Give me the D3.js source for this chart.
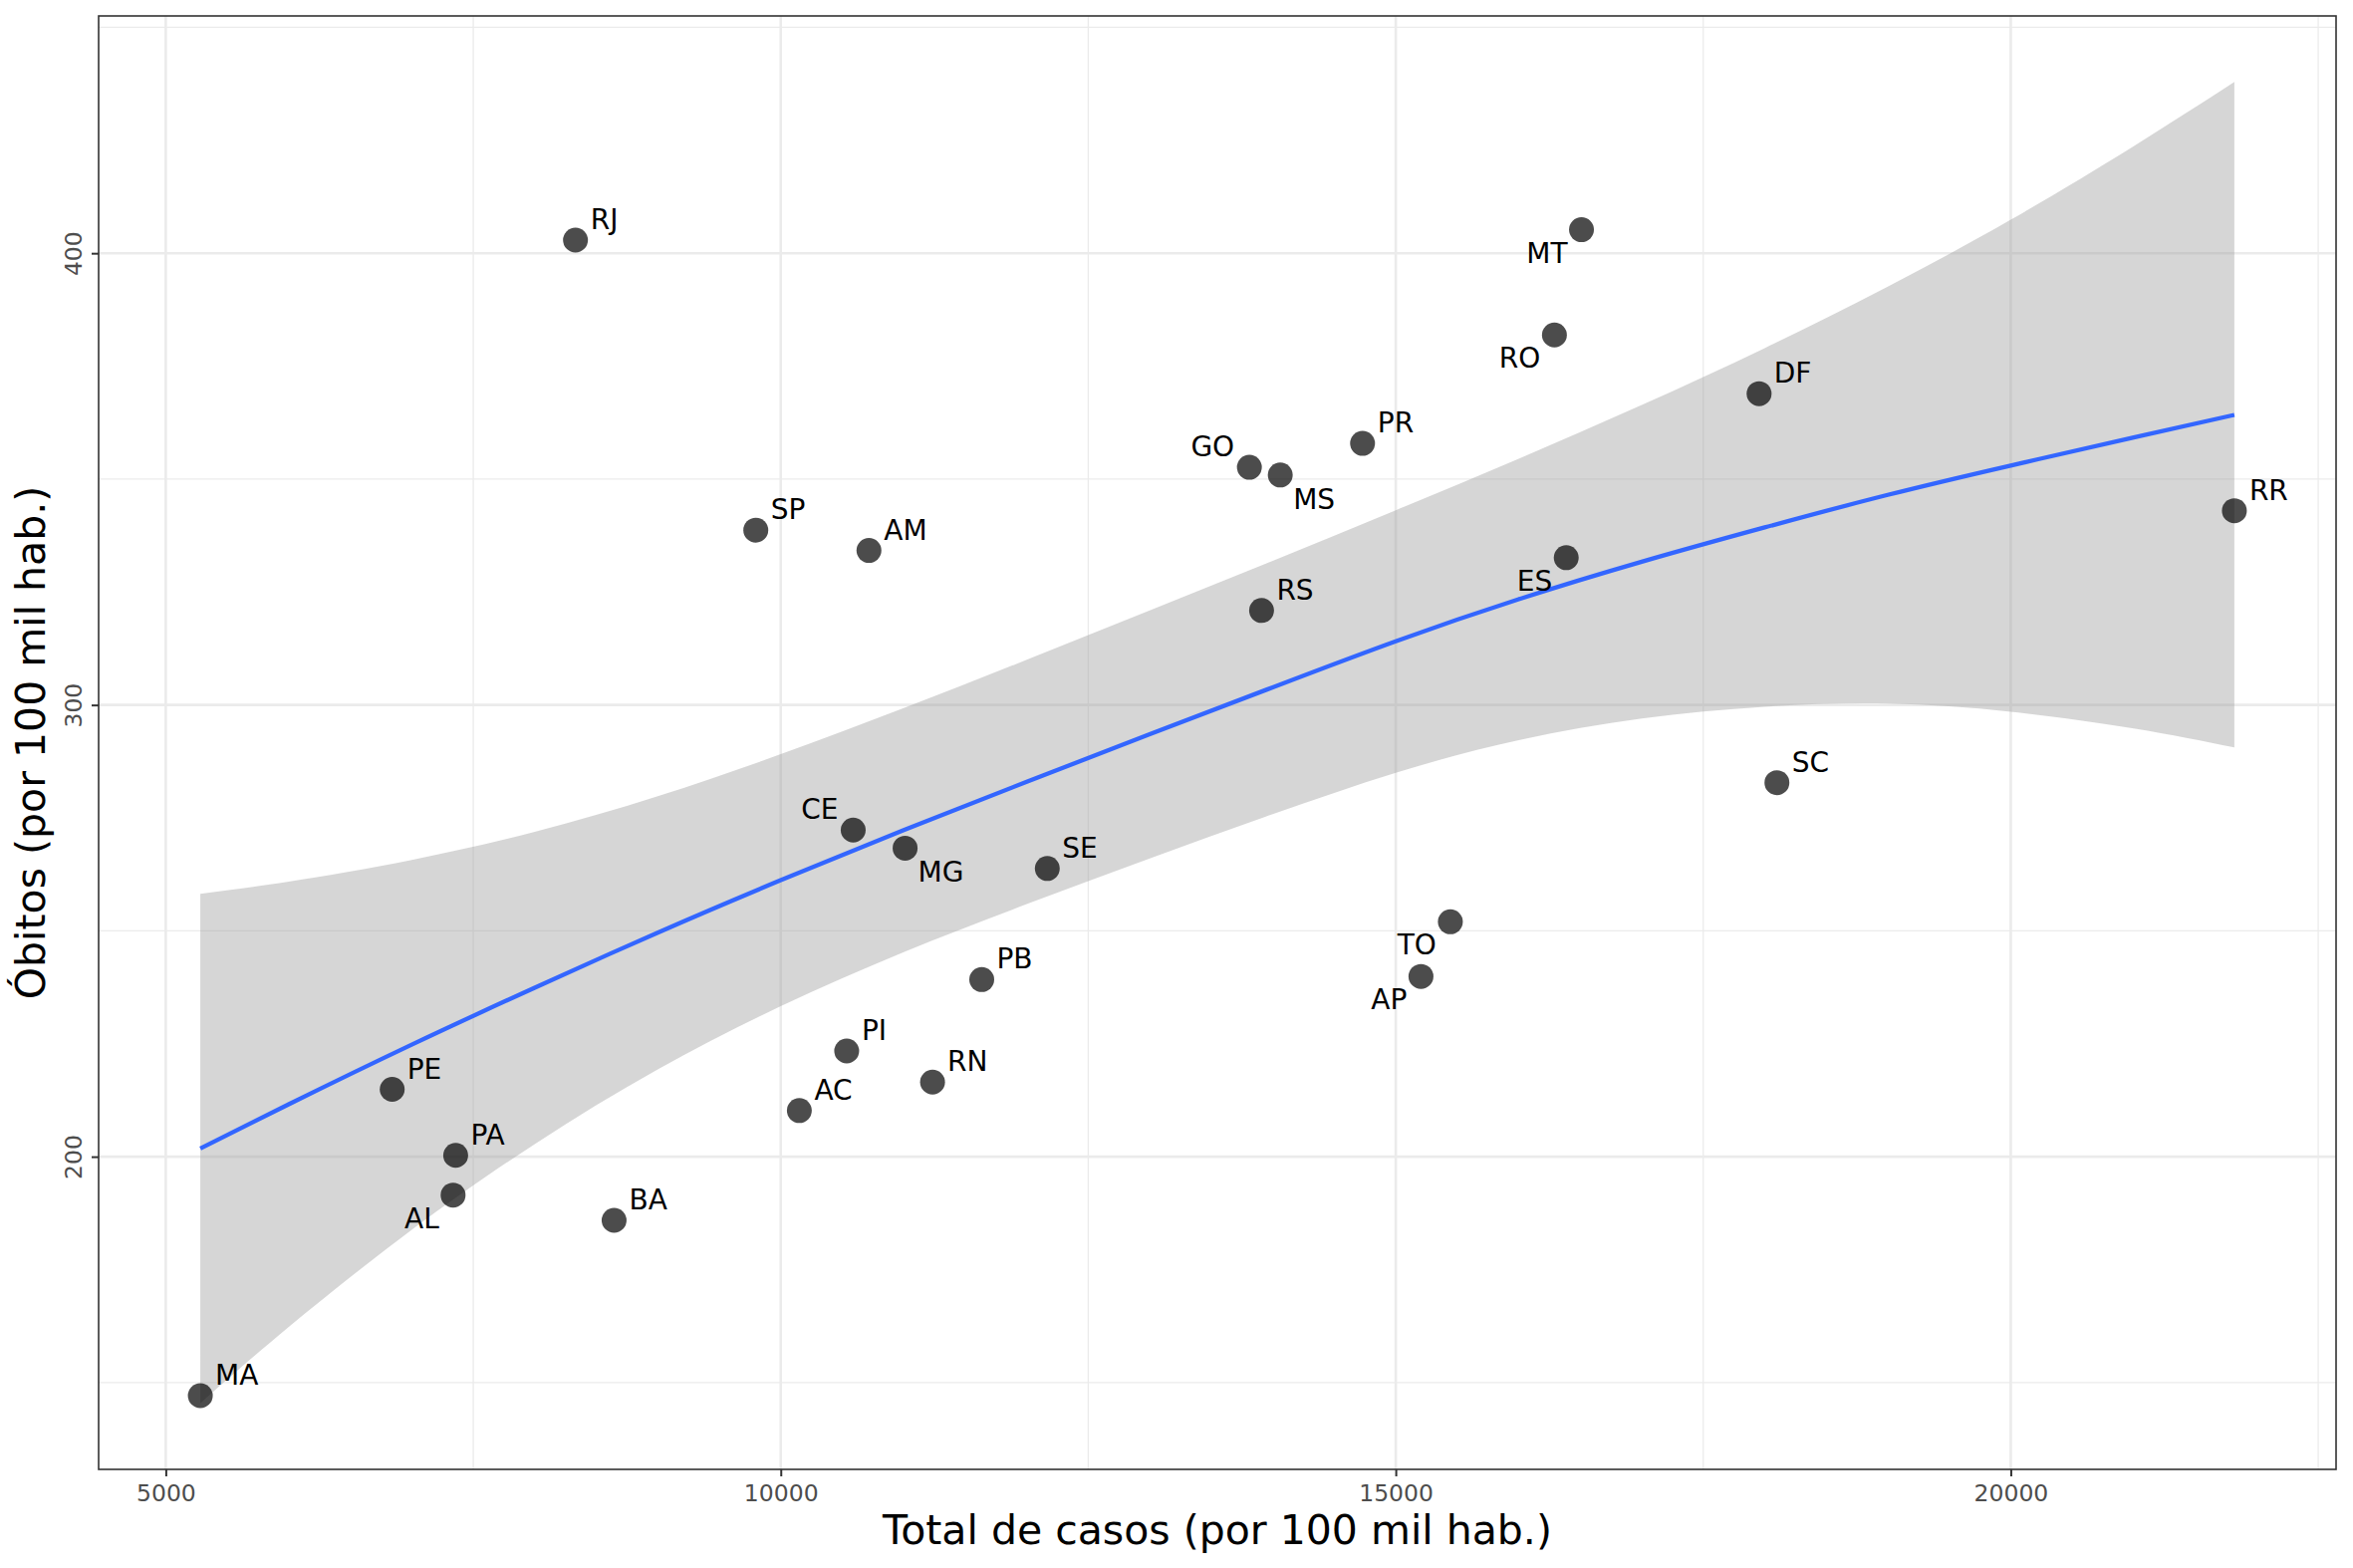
<!DOCTYPE html>
<html>
<head>
<meta charset="utf-8">
<script src="https://cdn.jsdelivr.net/npm/d3@7/dist/d3.min.js"></script>
<style>
  html, body { margin: 0; padding: 0; background: #ffffff; }
  svg { display: block; }
  text { font-family: "DejaVu Sans", sans-serif; }
</style>
</head>
<body>
<script>
// ---------- data ----------
const states = ['RJ','SP','AM','MT','RO','PR','GO','MS','RS','ES','DF','RR','SC','MA','PE','PA','AL','BA','CE','PI','AC','MG','SE','PB','RN','TO','AP'];
const casos  = [8331, 9797, 10717, 16510, 16290, 14730, 13810, 14061, 13909, 16386, 17954, 21818, 18099, 5281, 6841, 7357, 7336, 8645, 10589, 10536, 10151, 11011, 12167, 11634, 11234, 15444, 15205];
const obitos = [402.9, 338.7, 334.2, 405.2, 381.9, 357.9, 352.6, 350.9, 320.9, 332.6, 368.9, 343.0, 282.8, 147.1, 214.9, 200.3, 191.5, 185.9, 272.3, 223.4, 210.2, 268.3, 263.8, 239.2, 216.5, 252.0, 239.9];

// loess smooth
const smoothX     = [5281, 6000, 7000, 8000, 9000, 10000, 11000, 12000, 13000, 14000, 15000, 16000, 17000, 18000, 19000, 20000, 21000, 21818];
const smoothFit   = [201.8, 211.6, 224.8, 237.4, 249.6, 261.2, 272.3, 283.0, 293.5, 303.9, 314.1, 323.4, 331.7, 339.3, 346.5, 353.0, 359.2, 364.2];
const smoothUpper = [258.2, 260.9, 265.7, 271.9, 279.8, 289.1, 299.3, 310.0, 320.9, 331.9, 343.1, 354.5, 366.4, 379.0, 392.6, 407.4, 423.7, 437.9];
const smoothLower = [145.4, 162.3, 183.8, 202.8, 219.3, 233.3, 245.3, 255.9, 266.0, 275.8, 285.0, 292.2, 297.0, 299.6, 300.3, 298.5, 294.8, 290.6];

const xTicks = [5000, 10000, 15000, 20000];
const yTicks = [200, 300, 400];
const xMinor = [7500, 12500, 17500, 22500];
const yMinor = [150, 250, 350, 450];

const xTitle = 'Total de casos (por 100 mil hab.)';
const yTitle = 'Óbitos (por 100 mil hab.)';

// label placement: ur = upper-right, ll = lower-left, ul = upper-left, lr = lower-right
const labelPlace = {RJ:'ur',SP:'ur',AM:'ur',MT:'ll',RO:'ll',PR:'ur',GO:'ul',MS:'lr',RS:'ur',ES:'ll',DF:'ur',RR:'ur',SC:'ur',MA:'ur',PE:'ur',PA:'ur',AL:'ll',BA:'ur',CE:'ul',PI:'ur',AC:'ur',MG:'lr',SE:'ur',PB:'ur',RN:'ur',TO:'ll',AP:'ll'};

// ---------- layout ----------
const W = 2362, H = 1574;
const panel = {left: 99, right: 2345, top: 16, bottom: 1475};

const svg = d3.select('body').append('svg').attr('width', W).attr('height', H);
svg.append('rect').attr('width', W).attr('height', H).attr('fill', '#ffffff');

function expand(ext, f) { const r = ext[1] - ext[0]; return [ext[0] - r * f, ext[1] + r * f]; }
const xExt = d3.extent(casos.concat(smoothX));
const yExt = d3.extent(obitos.concat(smoothUpper, smoothLower));
const x = d3.scaleLinear().domain(expand(xExt, 0.05)).range([panel.left, panel.right]);
const y = d3.scaleLinear().domain(expand(yExt, 0.05)).range([panel.bottom, panel.top]);

const g = svg.append('g');

// grid
const grid = g.append('g');
grid.selectAll('line.xminor').data(xMinor.filter(v => x(v) > panel.left && x(v) < panel.right)).enter().append('line')
  .attr('x1', d => x(d)).attr('x2', d => x(d)).attr('y1', panel.top).attr('y2', panel.bottom)
  .attr('stroke', '#ebebeb').attr('stroke-width', 1.3);
grid.selectAll('line.yminor').data(yMinor.filter(v => y(v) > panel.top && y(v) < panel.bottom)).enter().append('line')
  .attr('y1', d => y(d)).attr('y2', d => y(d)).attr('x1', panel.left).attr('x2', panel.right)
  .attr('stroke', '#ebebeb').attr('stroke-width', 1.3);
grid.selectAll('line.xmajor').data(xTicks).enter().append('line')
  .attr('x1', d => x(d)).attr('x2', d => x(d)).attr('y1', panel.top).attr('y2', panel.bottom)
  .attr('stroke', '#ebebeb').attr('stroke-width', 2.6);
grid.selectAll('line.ymajor').data(yTicks).enter().append('line')
  .attr('y1', d => y(d)).attr('y2', d => y(d)).attr('x1', panel.left).attr('x2', panel.right)
  .attr('stroke', '#ebebeb').attr('stroke-width', 2.6);

// ribbon + line
const sm = smoothX.map((v, i) => ({x: v, fit: smoothFit[i], lo: smoothLower[i], hi: smoothUpper[i]}));
const area = d3.area().x(d => x(d.x)).y0(d => y(d.lo)).y1(d => y(d.hi)).curve(d3.curveNatural);
g.append('path').attr('d', area(sm)).attr('fill', '#999999').attr('fill-opacity', 0.4);

const line = d3.line().x(d => x(d.x)).y(d => y(d.fit)).curve(d3.curveNatural);

// points
const pts = states.map((s, i) => ({s, x: casos[i], y: obitos[i]}));
g.selectAll('circle.pt').data(pts).enter().append('circle')
  .attr('cx', d => x(d.x)).attr('cy', d => y(d.y)).attr('r', 12.5)
  .attr('fill', '#000000').attr('fill-opacity', 0.7);

g.append('path').attr('d', line(sm)).attr('fill', 'none').attr('stroke', '#3366FF').attr('stroke-width', 4.3);

// labels
const off = {
  ur: {dx: 15, dy: -11, anchor: 'start'},
  ll: {dx: -14, dy: 33, anchor: 'end'},
  ul: {dx: -15, dy: -11, anchor: 'end'},
  lr: {dx: 13, dy: 34, anchor: 'start'}
};
g.selectAll('text.lab').data(pts).enter().append('text')
  .attr('x', d => x(d.x) + off[labelPlace[d.s]].dx)
  .attr('y', d => y(d.y) + off[labelPlace[d.s]].dy)
  .attr('text-anchor', d => off[labelPlace[d.s]].anchor)
  .attr('font-size', 28).attr('fill', '#000000')
  .text(d => d.s);

// panel border
svg.append('rect').attr('x', panel.left).attr('y', panel.top)
  .attr('width', panel.right - panel.left).attr('height', panel.bottom - panel.top)
  .attr('fill', 'none').attr('stroke', '#333333').attr('stroke-width', 1.6);

// axes
const xAxis = d3.axisBottom(x).tickValues(xTicks).tickSize(7).tickPadding(8).tickFormat(d3.format('d'));
const xg = svg.append('g').attr('transform', `translate(0,${panel.bottom})`).call(xAxis);
xg.select('.domain').remove();
xg.selectAll('line').attr('stroke', '#333333').attr('stroke-width', 2);
xg.selectAll('text').attr('font-size', 23.5).attr('fill', '#4d4d4d').attr('font-family', '"DejaVu Sans", sans-serif');

const yAxis = d3.axisLeft(y).tickValues(yTicks).tickSize(7).tickFormat(d3.format('d'));
const yg = svg.append('g').attr('transform', `translate(${panel.left},0)`).call(yAxis);
yg.select('.domain').remove();
yg.selectAll('line').attr('stroke', '#333333').attr('stroke-width', 2);
yg.selectAll('text')
  .attr('font-size', 23.5).attr('fill', '#4d4d4d').attr('font-family', '"DejaVu Sans", sans-serif')
  .attr('x', 0).attr('y', -17).attr('dy', null)
  .attr('text-anchor', 'middle').attr('transform', 'rotate(-90)');

// titles
svg.append('text').attr('x', (panel.left + panel.right) / 2).attr('y', 1550)
  .attr('text-anchor', 'middle').attr('font-size', 41).attr('fill', '#000000').text(xTitle);
svg.append('text').attr('transform', `translate(45,${(panel.top + panel.bottom) / 2}) rotate(-90)`)
  .attr('text-anchor', 'middle').attr('font-size', 41).attr('fill', '#000000').text(yTitle);
</script>
</body>
</html>
